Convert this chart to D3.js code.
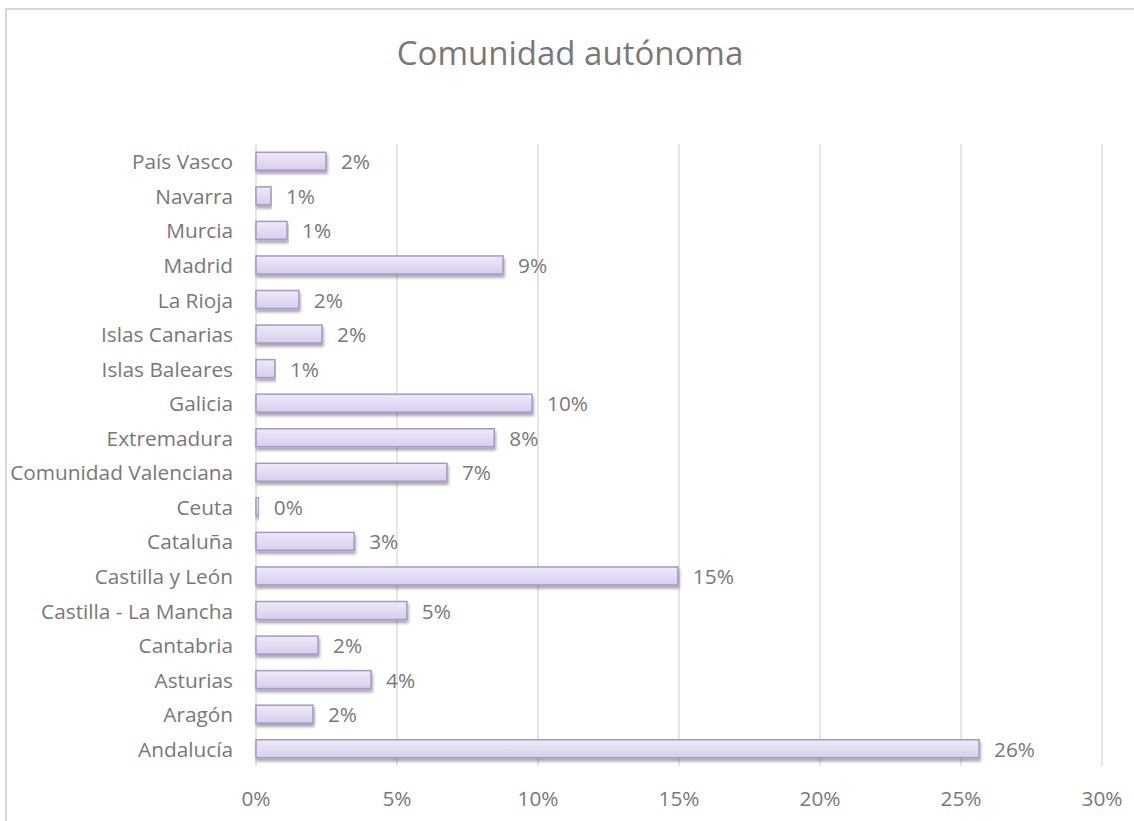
<!DOCTYPE html>
<html><head><meta charset="utf-8">
<script src="https://cdn.jsdelivr.net/npm/d3@7"></script>
<style>body{margin:0;background:#fff}svg{display:block}</style>
</head><body>
<svg id="c" width="1134" height="821"></svg>
<script>
const categories = ["Andalucía","Aragón","Asturias","Cantabria","Castilla - La Mancha","Castilla y León","Cataluña","Ceuta","Comunidad Valenciana","Extremadura","Galicia","Islas Baleares","Islas Canarias ","La Rioja","Madrid","Murcia","Navarra","País Vasco"];
const values = [0.2564,0.0202,0.0408,0.0220,0.0535,0.1496,0.0348,0.0010,0.0677,0.0845,0.0979,0.0067,0.0234,0.0152,0.0876,0.0110,0.0053,0.0248];
const xTicks = [0,0.05,0.10,0.15,0.20,0.25,0.30];
const title = "Comunidad autónoma";

const svg = d3.select("#c");
const font = "'Open Sans', sans-serif";
const textCol = "#787878";
const fs = 20.8;

svg.append("rect").attr("x",6).attr("y",9).attr("width",1140).attr("height",830)
  .attr("fill","#fff").attr("stroke","#d9d9d9").attr("stroke-width",2);

const defs = svg.append("defs");
const grad = defs.append("linearGradient").attr("id","g").attr("x1",0).attr("y1",0).attr("x2",0).attr("y2",1);
grad.append("stop").attr("offset","0%").attr("stop-color","#efeaf8");
grad.append("stop").attr("offset","100%").attr("stop-color","#d8cdee");
const f = defs.append("filter").attr("id","sh").attr("x","-5%").attr("y","-30%").attr("width","110%").attr("height","180%");
f.append("feDropShadow").attr("dx",1).attr("dy",3).attr("stdDeviation",1.6).attr("flood-color","#000").attr("flood-opacity",0.35);

const x = d3.scaleLinear().domain([0,0.30]).range([256,1102]);
const y = d3.scaleBand().domain(categories.slice().reverse()).range([144,766]).paddingInner(0.48).paddingOuter(0.24);

svg.append("g").selectAll("line").data(xTicks).join("line")
  .attr("x1",d=>x(d)).attr("x2",d=>x(d)).attr("y1",144).attr("y2",766)
  .attr("stroke","#d9d9d9").attr("stroke-width",1.3);

svg.append("g").selectAll("text").data(xTicks).join("text")
  .attr("x",d=>x(d)).attr("y",798).attr("text-anchor","middle").attr("dominant-baseline","central")
  .attr("font-family",font).attr("font-size",fs).attr("fill",textCol)
  .text(d3.format(".0%"));

svg.append("g").selectAll("text").data(categories).join("text")
  .attr("x",233).attr("y",d=>y(d)+y.bandwidth()/2).attr("text-anchor","end").attr("dominant-baseline","central")
  .attr("font-family",font).attr("font-size",fs).attr("fill",textCol)
  .text(d=>d);

svg.append("g").selectAll("rect").data(categories).join("rect")
  .attr("x",x(0)).attr("y",d=>y(d)).attr("height",y.bandwidth())
  .attr("width",(d,i)=>x(values[i])-x(0))
  .attr("fill","url(#g)").attr("stroke","#a797c6").attr("stroke-width",1.5)
  .attr("filter","url(#sh)");

svg.append("g").selectAll("text").data(categories).join("text")
  .attr("x",(d,i)=>x(values[i])+15).attr("y",d=>y(d)+y.bandwidth()/2).attr("dominant-baseline","central")
  .attr("font-family",font).attr("font-size",fs).attr("fill",textCol)
  .text((d,i)=>d3.format(".0%")(values[i]));

svg.append("text").attr("x",570).attr("y",52).attr("text-anchor","middle").attr("dominant-baseline","central")
  .attr("font-family",font).attr("font-size",33).attr("fill",textCol).text(title);
</script>
</body></html>
